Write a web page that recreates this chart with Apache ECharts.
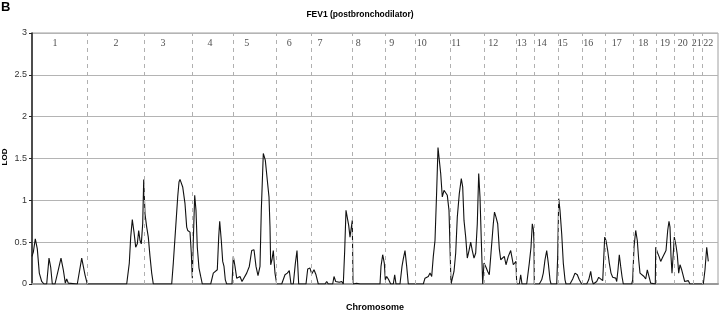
<!DOCTYPE html>
<html>
<head>
<meta charset="utf-8">
<script src="https://cdn.jsdelivr.net/npm/echarts@6/dist/echarts.min.js"></script>
<style>html,body{margin:0;padding:0;background:#fff}#c{width:720px;height:312px}</style>
</head>
<body>
<div id="c"></div>
<script>
// Genome position (arbitrary units along the axis) and LOD score
const positions = [0,1.3,3.3,5.3,7.3,9.7,12,14.7,17,18.7,20.3,23,26.3,29,31.3,33.3,34.7,36.3,38,45.3,49.7,53,55.3,
74,75.3,78,94.7,97.3,98.7,100.3,102,103.7,105.3,106.7,108,109.3,110.7,111.7,113,114.7,116.3,118,119.7,121.3,
139.7,141.3,143.7,145.7,147,148,149.3,150.7,153,154.7,155.7,156.7,158,159.3,160.3,161.3,162.7,164,165.3,167,168.7,170.3,
178.7,181.3,183.3,185.3,186.7,187.7,189.3,190.7,192,193.3,194.7,200,201.3,203,204.7,206.3,208,210,212,214.7,217.3,219.7,222,224,226,228,229.3,231.3,233.3,235.3,237,238,238.7,240,241.3,243,244.7,
249.7,253,255.3,257.3,259,261.3,263.3,265,266.7,
274,275.7,278,279.7,282,284,286.3,293,294.7,296.3,300.7,302,303.7,305.3,307.3,309.7,311.3,312.7,314,315.3,316.7,318,319.3,320.3,321,323,324.7,328,
348,349,350.7,352.3,353.3,354.7,356.7,358.7,361.3,362.7,364,368,370,371.3,373,374.7,376.3,
391.3,393,396.3,398,399.7,401.3,403,404.7,406,407.3,408.7,410.3,412,413.7,415.3,417,418,419,420.7,422,423.7,425.3,427.3,429.3,430.7,432,433.7,435.3,437,438.7,440.3,442,443.7,445.3,446.7,448,449.3,450.7,
452,454,455.7,457.3,459,461.3,462.5,464,465.7,467.3,468.7,470.7,472.3,474,476.3,478.7,480,481.3,482.7,484,484.7,
487.3,488.7,490,494.7,497.3,499,500.3,501.3,502,502.3,
507.3,509.7,511.3,513,514.7,516.3,518,519,
524.7,525.7,526.7,528,529.7,531.3,533,534,538,540.7,543,545.3,547.3,549.7,
554.7,556.7,558.7,560,561.3,564.7,566.7,568.7,570.7,572,572.7,574,575.7,577.3,579,580.7,582.3,583.7,584.7,586,587.3,588.7,590,591.3,
599.7,600.7,602,603.7,605.3,606.7,608,610,612,613.7,615.3,617.3,618.7,619.7,
623.3,623.7,625.3,627,628.7,630.3,632.3,634,635.7,637,638,639,640,641.3,642.3,644,645.3,646.7,648,649.7,651,652.7,654.7,656.3,658,
671.3,673,674.7,676.3];
const lod = [0.33,0.38,0.54,0.42,0.13,0.03,0,0,0.31,0.2,0,0,0.17,0.31,0.17,0.01,0.06,0.01,0,0,0.31,0.11,0,
0,0.02,0,0,0.25,0.56,0.77,0.62,0.44,0.48,0.64,0.52,0.48,0.72,1.25,0.84,0.68,0.56,0.33,0.13,0,
0,0.25,0.68,1.04,1.22,1.25,1.24,1.16,0.96,0.68,0.64,0.66,0.62,0.37,0.07,0.52,1.06,0.88,0.44,0.19,0.09,0,
0,0.13,0.15,0.17,0.56,0.75,0.52,0.27,0.21,0.05,0,0,0.33,0.21,0.07,0.05,0.09,0.03,0.05,0.13,0.21,0.40,0.41,0.21,0.10,0.21,0.88,1.56,1.48,1.24,1.04,0.68,0.23,0.29,0.40,0.13,0,
0,0.11,0.13,0.16,0,0,0.24,0.40,0,
0,0.18,0.19,0.12,0.17,0.11,0,0,0.03,0,0,0.09,0.03,0.05,0.02,0.03,0,0.40,0.88,0.86,0.70,0.56,0.58,0.76,0,0.02,0.01,0,
0,0.21,0.35,0.25,0.05,0.09,0.05,0,0,0.11,0,0,0.21,0.30,0.40,0.21,0,
0,0.07,0.09,0.13,0.09,0.33,0.52,1.12,1.63,1.48,1.32,1.04,1.12,1.14,1.06,0.88,0.44,0,0.02,0.15,0.37,0.80,1.08,1.26,1.16,0.76,0.56,0.31,0.40,0.50,0.40,0.31,0.37,0.72,1.32,1.04,0.52,0,
0.25,0.20,0.15,0.11,0.37,0.72,0.86,0.80,0.72,0.42,0.29,0.31,0.33,0.23,0.33,0.40,0.38,0.23,0.21,0.27,0,
0,0.11,0,0,0.25,0.44,0.72,0.66,0.50,0,
0,0.05,0.13,0.29,0.40,0.25,0.05,0,
0,0.33,1.02,0.88,0.60,0.25,0.05,0,0,0.06,0.13,0.11,0.05,0,
0,0.05,0.15,0.05,0,0.03,0.08,0.09,0.04,0.05,0.56,0.52,0.40,0.25,0.13,0.08,0.10,0.07,0.03,0.17,0.35,0.21,0.09,0,
0,0.05,0.44,0.64,0.52,0.29,0.13,0.11,0.09,0.06,0.17,0.15,0.01,0,
0,0.44,0.38,0.33,0.27,0.31,0.33,0.40,0.64,0.75,0.68,0.33,0.13,0.37,0.56,0.46,0.35,0.13,0.23,0.17,0.11,0.03,0.02,0.04,0,
0,0.17,0.44,0.27];

// Chromosome boundaries (axis units) and labels
const chromBoundaries = [55.3,112.3,160.7,201.3,244.7,279.7,320.7,353,383.7,418.7,452,484.3,502.3,526.7,550.3,573,601.3,624.7,642.3,661.3,670.7];
const chromNames = ['1','2','3','4','5','6','7','8','9','10','11','12','13','14','15','16','17','18','19','20','21','22'];
const chromLabelPos = [23,84,131,178,214.7,257.3,288,326.3,359.7,389.7,424,461.3,489.7,509.7,530.7,556.3,584.7,611.3,633,650.7,664.7,676.3];
const yTicks = {min: 0, max: 3, interval: 0.5};
const axisMax = 686;

const lineData = positions.map((p, i) => [p, lod[i]]);
const labelData = chromLabelPos.map((p, i) => [p, 2.88, chromNames[i]]);

const sans = '"Liberation Sans", Arial, sans-serif';
const chart = echarts.init(document.getElementById('c'), null, {renderer: 'canvas'});
chart.setOption({
  animation: false,
  backgroundColor: '#fff',
  grid: {left: 32, right: 2, top: 33, bottom: 28, containLabel: false, outerBoundsMode: 'none',
    show: true, borderColor: '#a0a0a0', borderWidth: 1},
  graphic: [
    {type: 'text', left: 1, top: 1, style: {text: 'B', font: 'bold 13px ' + sans, fill: '#000'}},
    {type: 'text', x: 360, y: 15, style: {text: 'FEV1 (postbronchodilator)', textAlign: 'center', textVerticalAlign: 'middle', font: 'bold 8.5px ' + sans, fill: '#000'}},
    {type: 'text', x: 375, y: 308, style: {text: 'Chromosome', textAlign: 'center', textVerticalAlign: 'middle', font: 'bold 9px ' + sans, fill: '#000'}},
    {type: 'text', x: 5, y: 157, rotation: Math.PI / 2, style: {text: 'LOD', textAlign: 'center', textVerticalAlign: 'middle', font: 'bold 8px ' + sans, fill: '#000'}}
  ],
  xAxis: {
    type: 'value', min: 0, max: axisMax,
    axisLine: {show: true, lineStyle: {color: '#999', width: 2}},
    axisTick: {show: false}, axisLabel: {show: false}, splitLine: {show: false}
  },
  yAxis: {
    type: 'value', min: yTicks.min, max: yTicks.max, interval: yTicks.interval,
    axisLine: {show: true, lineStyle: {color: '#222', width: 1.5}},
    axisTick: {show: true, length: 3, lineStyle: {color: '#222'}},
    axisLabel: {fontFamily: sans, fontSize: 9, color: '#333', margin: 5},
    splitLine: {show: true, lineStyle: {color: '#b4b4b4', width: 1}}
  },
  series: [
    {
      type: 'line', data: lineData, symbol: 'none', z: 3,
      lineStyle: {color: '#111', width: 1.1},
      markLine: {
        silent: true, symbol: ['none', 'none'], label: {show: false},
        lineStyle: {color: '#b0b0b0', type: [4, 4], width: 1},
        data: chromBoundaries.map(b => ({xAxis: b}))
      }
    },
    {
      type: 'scatter', data: labelData, symbolSize: 1, itemStyle: {color: 'rgba(0,0,0,0)'},
      label: {show: true, position: 'inside', formatter: p => p.data[2],
        fontFamily: '"Liberation Serif", "Times New Roman", serif', fontSize: 10, color: '#222'}
    }
  ]
});
</script>
</body>
</html>
